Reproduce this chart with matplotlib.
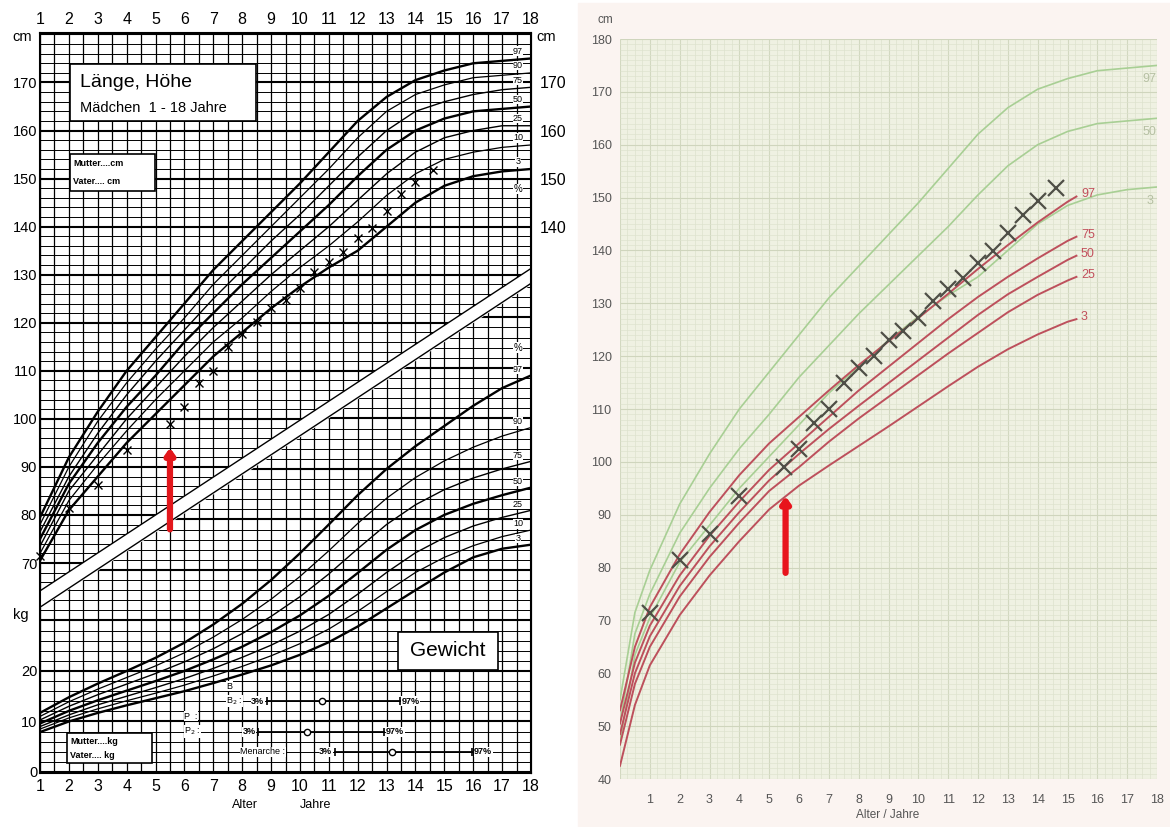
import numpy as np
import matplotlib.pyplot as plt
from matplotlib.patches import Rectangle, Polygon
from matplotlib.collections import LineCollection

plt.rcParams['font.family'] = ['Liberation Sans', 'DejaVu Sans']

# Swiss reference curves, girls (left chart, also green curves on the right)
ages = list(range(1, 19))
h_p97 = [79.5, 92.0, 101.5, 110.0, 117.0, 124.0, 131.0, 137.0, 143.0, 149.0, 155.5, 162.0, 167.0, 170.5, 172.5, 174.0, 174.5, 175.0]
h_p90 = [78.0, 90.0, 99.5, 107.5, 114.5, 121.0, 128.0, 134.0, 140.0, 146.0, 152.0, 158.5, 164.0, 167.5, 169.5, 171.0, 171.5, 172.0]
h_p75 = [76.5, 88.0, 97.0, 105.0, 112.0, 118.5, 125.0, 131.0, 137.0, 142.5, 148.5, 154.5, 160.0, 164.0, 166.0, 167.5, 168.5, 169.0]
h_p50 = [75.0, 86.5, 95.0, 102.5, 109.0, 116.0, 122.0, 128.0, 133.5, 139.0, 144.5, 150.5, 156.0, 160.0, 162.5, 164.0, 164.5, 165.0]
h_p25 = [73.5, 85.0, 92.5, 100.0, 106.5, 113.0, 119.0, 124.5, 130.0, 135.0, 140.0, 145.5, 151.0, 155.5, 158.5, 160.0, 161.0, 161.0]
h_p10 = [72.0, 83.0, 90.5, 97.5, 104.0, 110.0, 116.0, 121.0, 126.5, 131.5, 136.0, 141.0, 146.5, 151.0, 154.0, 155.5, 156.5, 157.0]
h_p3 = [70.5, 81.0, 88.0, 95.0, 101.0, 107.0, 113.0, 118.0, 123.0, 127.5, 131.5, 135.0, 140.0, 145.0, 148.5, 150.5, 151.5, 152.0]

w_p97 = [11.7, 14.8, 17.5, 20.0, 22.6, 25.6, 29.2, 33.3, 38.0, 43.3, 49.0, 54.8, 60.0, 64.5, 68.5, 72.5, 76.0, 78.5]
w_p90 = [11.0, 13.9, 16.4, 18.7, 21.0, 23.6, 26.7, 30.2, 34.2, 38.7, 43.8, 49.2, 54.2, 58.3, 61.6, 64.3, 66.5, 68.2]
w_p75 = [10.3, 13.0, 15.3, 17.4, 19.5, 21.8, 24.4, 27.4, 30.8, 34.7, 39.2, 44.2, 49.0, 52.9, 55.9, 58.2, 60.0, 61.5]
w_p50 = [9.6, 12.1, 14.2, 16.1, 18.0, 20.0, 22.3, 24.8, 27.7, 31.0, 34.9, 39.4, 44.0, 47.9, 50.9, 53.1, 54.8, 56.3]
w_p25 = [9.0, 11.3, 13.3, 15.0, 16.7, 18.5, 20.5, 22.7, 25.1, 27.9, 31.2, 35.2, 39.5, 43.4, 46.4, 48.7, 50.4, 51.8]
w_p10 = [8.5, 10.7, 12.5, 14.1, 15.6, 17.2, 19.0, 20.9, 23.0, 25.4, 28.3, 31.8, 35.7, 39.5, 42.5, 44.8, 46.6, 47.9]
w_p3 = [7.9, 10.0, 11.7, 13.2, 14.6, 16.0, 17.6, 19.3, 21.1, 23.2, 25.7, 28.8, 32.4, 36.0, 39.5, 42.5, 44.2, 45.0]

pct_labels = ['97', '90', '75', '50', '25', '10', '3']

# white band between height and weight part (cm)
band_ages = [1, 18]
band_top = [64.2, 131.3]
band_bottom = [60.8, 128.2]

# puberty stages: 3%, 50%, 97% ages
pub_p3 = [8.85, 8.55, 11.2]
pub_p50 = [10.75, 10.25, 13.2]
pub_p97 = [13.45, 12.9, 15.95]

# right chart: green reference curves from birth
green_ages = [0, 0.5] + ages
g_p97 = [55.0, 71.5] + h_p97
g_p50 = [50.5, 67.5] + h_p50
g_p3 = [47.0, 63.5] + h_p3

# red curves (Turner reference)
red_ages = [0, 0.5, 1, 2, 3, 4, 5, 6, 7, 8, 9, 10, 11, 12, 13, 14, 15, 15.3]
r_p97 = [53.0, 65.0, 72.5, 82.5, 90.5, 97.5, 103.5, 108.5, 113.5, 118.3, 122.8, 127.2, 131.8, 136.5, 141.0, 145.3, 149.2, 150.2]
r_p75 = [50.5, 62.0, 69.0, 78.5, 86.0, 92.5, 98.5, 103.5, 108.5, 113.5, 118.0, 122.5, 127.0, 131.2, 135.0, 138.5, 141.8, 142.6]
r_p50 = [48.5, 60.0, 67.0, 76.5, 84.0, 90.5, 96.5, 101.5, 106.2, 110.6, 114.9, 119.2, 123.5, 127.8, 131.7, 135.0, 138.2, 139.0]
r_p25 = [46.5, 58.0, 65.0, 74.5, 82.0, 88.5, 94.5, 99.0, 103.8, 108.2, 112.3, 116.4, 120.5, 124.4, 128.3, 131.6, 134.3, 135.0]
r_p3 = [42.5, 54.0, 61.5, 71.0, 78.5, 85.0, 91.0, 95.5, 99.3, 103.0, 106.7, 110.5, 114.3, 118.0, 121.3, 124.1, 126.5, 127.0]

# patient measurements
pat_age = [1.0, 2.0, 3.0, 4.0, 5.5, 6.0, 6.5, 7.0, 7.5, 8.0, 8.5, 9.0, 9.5, 10.0, 10.5, 11.0, 11.5, 12.0, 12.5, 13.0, 13.5, 14.0, 14.6]
pat_h = [71.5, 81.5, 86.3, 93.5, 99.0, 102.4, 107.4, 110.0, 114.9, 117.7, 120.1, 123.0, 124.7, 127.2, 130.5, 132.7, 134.7, 137.6, 139.8, 143.3, 146.7, 149.3, 151.8]

arrow_age = 5.5
arrow_left = (77.0, 94.0)
arrow_right = (79.0, 93.5)

W, H = 1170, 827
fig = plt.figure(figsize=(W / 100, H / 100), dpi=100)
fig.patch.set_facecolor('white')


def rect(x0, y0, x1, y1):
    return [x0 / W, 1 - y1 / H, (x1 - x0) / W, (y1 - y0) / H]


fig.patches.append(Rectangle((578 / W, 0), 1 - 578 / W, 1 - 3 / H,
                             transform=fig.transFigure, color='#fbf4f1', zorder=-5))

# ---------------- left chart ----------------
pos = rect(40, 33, 531, 773)
axW = fig.add_axes(pos, zorder=0)
axL = fig.add_axes(pos, zorder=1)
axL.patch.set_visible(False)
axW.set_xlim(1, 18)
axW.set_ylim(-0.2, 146.3)
for s in axW.spines.values():
    s.set_visible(False)
axW.set_xticks([])
axW.set_yticks([0, 10, 20])
axW.tick_params(axis='y', length=0, labelsize=10.5, pad=2)
kgT = axW.transData

axL.set_xlim(1, 18)
axL.set_ylim(26.3, 180.3)

# grid
axL.vlines(np.arange(1, 18.01, 0.5), 26.3, 180.3, colors='k', lw=0.9, zorder=1)
upper = Polygon([(1, band_top[0]), (18, band_top[1]), (18, 181), (1, 181)],
                closed=True, transform=axL.transData)
lower = Polygon([(1, 26), (18, 26), (18, band_bottom[1]), (1, band_bottom[0])],
                closed=True, transform=axL.transData)
cm_lv = np.arange(28, 181, 2)
lc = LineCollection([[(1, c), (18, c)] for c in cm_lv], colors='k',
                    linewidths=[1.5 if c % 10 == 0 else 0.7 for c in cm_lv],
                    transform=axL.transData, zorder=1)
axL.add_collection(lc, autolim=False)
lc.set_clip_path(upper)
kg_lv = np.arange(0, 147, 2)
lk = LineCollection([[(1, k), (18, k)] for k in kg_lv], colors='k',
                    linewidths=[1.5 if k % 10 == 0 else 0.7 for k in kg_lv],
                    transform=kgT, zorder=1)
axL.add_collection(lk, autolim=False)
lk.set_clip_path(lower)

axL.fill_between(band_ages, band_bottom, band_top, color='white', zorder=2)
axL.plot(band_ages, band_top, color='k', lw=1.0, zorder=2)
axL.plot(band_ages, band_bottom, color='k', lw=1.0, zorder=2)

widths = [1.7, 0.9, 1.0, 1.7, 1.0, 0.9, 1.7]
for vals, lab, lw in zip([h_p97, h_p90, h_p75, h_p50, h_p25, h_p10, h_p3], pct_labels, widths):
    axL.plot(ages, vals, color='k', lw=lw, zorder=3)
    axL.text(17.55, vals[-1] + 1.5, lab, fontsize=6.5, ha='center', va='center', zorder=4,
             bbox=dict(fc='white', ec='none', pad=0.2))
axL.text(17.55, h_p3[-1] - 4.2, '%', fontsize=7, ha='center', va='center', zorder=4,
         bbox=dict(fc='white', ec='none', pad=0.2))

for vals, lab, lw in zip([w_p97, w_p90, w_p75, w_p50, w_p25, w_p10, w_p3], pct_labels, widths):
    axL.plot(ages, vals, color='k', lw=lw, zorder=3, transform=kgT)
    axL.text(17.55, vals[-1] + 1.2, lab, fontsize=6.5, ha='center', va='center', zorder=4,
             transform=kgT, bbox=dict(fc='white', ec='none', pad=0.2))
axL.text(17.55, w_p97[-1] + 5.5, '%', fontsize=7, ha='center', va='center', zorder=4,
         transform=kgT, bbox=dict(fc='white', ec='none', pad=0.2))

axL.plot(pat_age, pat_h, 'x', color='k', ms=6, mew=1.0, zorder=5, clip_on=False)
axL.annotate('', xy=(arrow_age, arrow_left[1]), xytext=(arrow_age, arrow_left[0]),
             arrowprops=dict(arrowstyle='-|>,head_width=0.25,head_length=0.35',
                             color='#e3171c', lw=4.5, shrinkA=0, shrinkB=0), zorder=6)

# boxes
def box(ax, x0, y0, x1, y1):
    ax.add_patch(Rectangle((x0, y0), x1 - x0, y1 - y0, transform=ax.transAxes,
                           fc='white', ec='k', lw=1.2, zorder=4))


box(axL, 0.061, 0.881, 0.440, 0.958)
axL.text(0.081, 0.933, 'Länge, Höhe', fontsize=14, transform=axL.transAxes, va='center', zorder=5)
axL.text(0.081, 0.899, 'Mädchen  1 - 18 Jahre', fontsize=10.5, transform=axL.transAxes, va='center', zorder=5)
box(axL, 0.061, 0.786, 0.234, 0.836)
axL.text(0.068, 0.824, 'Mutter....cm', fontsize=6.5, fontweight='bold', transform=axL.transAxes, va='center', zorder=5)
axL.text(0.068, 0.800, 'Vater.... cm', fontsize=6.5, fontweight='bold', transform=axL.transAxes, va='center', zorder=5)
box(axL, 0.055, 0.0135, 0.228, 0.054)
axL.text(0.062, 0.042, 'Mutter....kg', fontsize=6.5, fontweight='bold', transform=axL.transAxes, va='center', zorder=5)
axL.text(0.062, 0.024, 'Vater.... kg', fontsize=6.5, fontweight='bold', transform=axL.transAxes, va='center', zorder=5)
box(axL, 0.729, 0.139, 0.933, 0.191)
axL.text(0.831, 0.165, 'Gewicht', fontsize=15, transform=axL.transAxes, ha='center', va='center', zorder=5)

# puberty stages
rows = [14, 8, 4]
wb = dict(fc='white', ec='none', pad=0.3)
for p3, p50, p97, y in zip(pub_p3, pub_p50, pub_p97, rows):
    axL.plot([p3, p97], [y, y], color='k', lw=1.3, zorder=5, transform=kgT)
    axL.plot([p3, p97], [y, y], '|', color='k', ms=6, mew=1.2, zorder=5, transform=kgT)
    axL.plot([p50], [y], 'o', mfc='white', mec='k', ms=4.5, mew=1, zorder=6, transform=kgT)
    axL.text(p3 - 0.08, y, '3%', fontsize=6.5, fontweight='bold', ha='right', va='center',
             transform=kgT, zorder=5, bbox=wb)
    axL.text(p97 + 0.08, y, '97%', fontsize=6.5, fontweight='bold', ha='left', va='center',
             transform=kgT, zorder=5, bbox=wb)
axL.text(7.45, 17.0, 'B', fontsize=6.5, va='center', transform=kgT, zorder=5, bbox=wb)
axL.text(7.45, 14.0, 'B$_2$ :', fontsize=6.5, va='center', transform=kgT, zorder=5, bbox=wb)
axL.text(6.0, 11.0, 'P  :', fontsize=6.5, va='center', transform=kgT, zorder=5, bbox=wb)
axL.text(6.0, 8.0, 'P$_2$ :', fontsize=6.5, va='center', transform=kgT, zorder=5, bbox=wb)
axL.text(9.5, 4.0, 'Menarche :', fontsize=6.5, ha='right', va='center', transform=kgT, zorder=5, bbox=wb)

for s in axL.spines.values():
    s.set_linewidth(1.5)
    s.set_zorder(6)
axL.set_xticks(ages)
axL.tick_params(axis='x', length=0, top=True, labeltop=True, labelsize=11.5, pad=4)
axL.set_yticks(range(70, 171, 10))
axL.tick_params(axis='y', length=0, labelsize=10.5, pad=2)
sec = axL.secondary_yaxis('right')
sec.set_yticks([140, 150, 160, 170])
sec.tick_params(length=0, labelsize=11.5, pad=6)
axL.text(-0.037, 0.995, 'cm', fontsize=10.5, ha='center', va='center', transform=axL.transAxes)
axL.text(1.03, 0.995, 'cm', fontsize=10.5, ha='center', va='center', transform=axL.transAxes)
axL.text(-0.04, 0.2135, 'kg', fontsize=10.5, ha='center', va='center', transform=axL.transAxes)
fig.text(245 / W, 1 - 805 / H, 'Alter', fontsize=9, ha='center', va='center')
fig.text(316 / W, 1 - 805 / H, 'Jahre', fontsize=9, ha='center', va='center')
axL.set_xlim(1, 18)
axL.set_ylim(26.3, 180.3)

# ---------------- right chart ----------------
axR = fig.add_axes(rect(620, 39, 1157, 779), zorder=2)
axR.set_xlim(0, 18)
axR.set_ylim(40, 180)
axR.set_facecolor('#eff1e2')
axR.vlines(np.arange(0, 18.01, 0.25), 40, 180, colors='#dde2cd', lw=0.5, zorder=0)
axR.vlines(np.arange(0, 18.01, 1), 40, 180, colors='#d2d8c0', lw=0.8, zorder=0)
axR.hlines(np.arange(40, 180.1, 1), 0, 18, colors='#dde2cd', lw=0.45, zorder=0)
axR.hlines(np.arange(40, 180.1, 10), 0, 18, colors='#cfd5bd', lw=0.8, zorder=0)

for vals, lab in zip([g_p97, g_p50, g_p3], ['97', '50', '3']):
    axR.plot(green_ages, vals, color='#a8cf94', lw=1.2, zorder=2)
    axR.text(17.75, vals[-1] - 2.6, lab, color='#b6c0a3', fontsize=9, ha='center', va='center')

for vals, lab in zip([r_p97, r_p75, r_p50, r_p25, r_p3], ['97', '75', '50', '25', '3']):
    axR.plot(red_ages, vals, color='#bd505c', lw=1.4, zorder=3)
    axR.text(15.45, vals[-1] + 0.4, lab, color='#c2505c', fontsize=9, ha='left', va='center')

axR.plot(pat_age, pat_h, 'x', color='#4f4f47', ms=11, mew=1.6, zorder=5)
axR.annotate('', xy=(arrow_age + 0.05, arrow_right[1]), xytext=(arrow_age + 0.05, arrow_right[0]),
             arrowprops=dict(arrowstyle='-|>,head_width=0.25,head_length=0.35',
                             color='#e8141c', lw=4.5, shrinkA=0, shrinkB=0), zorder=6)

for s in axR.spines.values():
    s.set_visible(False)
axR.set_xticks(ages)
axR.set_yticks(range(40, 181, 10))
axR.tick_params(length=0, labelsize=9, colors='#555555')
axR.tick_params(axis='x', pad=11)
axR.tick_params(axis='y', pad=6)
fig.text(605 / W, 1 - 20 / H, 'cm', fontsize=8.5, color='#555555', ha='center', va='center')
fig.text(888 / W, 1 - 815 / H, 'Alter / Jahre', fontsize=8.5, color='#555555', ha='center', va='center')

fig.savefig('out.png', dpi=100)
